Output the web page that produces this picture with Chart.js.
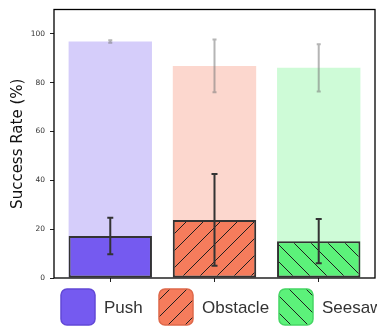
<!DOCTYPE html>
<html>
<head>
<meta charset="utf-8">
<script src="https://cdn.jsdelivr.net/npm/chart.js@4/dist/chart.umd.min.js"></script>
<style>
  html, body { margin: 0; padding: 0; background: #fff; }
  #wrap { width: 377px; height: 329px; }
</style>
</head>
<body>
<div id="wrap"><canvas id="c" width="377" height="329"></canvas></div>
<script>
// Task categories
const categories = ['Push', 'Obstacle', 'Seesaw'];
// Upper (pale) bars: success rate with the full method, and its spread
const upperMeans = [96.9, 86.9, 86.1];
const upperErrs  = [0.5, 10.8, 9.7];
// Lower (solid, hatched) bars: baseline success rate, and its spread
const lowerMeans = [17.2, 23.8, 15.1];
const lowerErrs  = [7.5, 18.8, 9.1];
// Value-axis tick labels
const yTicks = [0, 20, 40, 60, 80, 100];

const baseColors = ['rgb(117,90,240)', 'rgb(245,124,92)', 'rgb(92,242,122)'];
const paleColors = ['rgba(117,90,240,0.3)', 'rgba(245,124,92,0.3)', 'rgba(92,242,122,0.3)'];
const edgeColors = ['rgb(98,72,214)', 'rgb(222,104,74)', 'rgb(70,214,100)'];
const hatches = ['', '/', '\\'];

function makeHatch(color, kind) {
  if (!kind) return color;
  const p = 17;
  const t = document.createElement('canvas');
  t.width = p; t.height = p;
  const g = t.getContext('2d');
  g.fillStyle = color;
  g.fillRect(0, 0, p, p);
  g.strokeStyle = '#1e1e1e';
  g.lineWidth = 1;
  g.beginPath();
  if (kind === '/') {
    g.moveTo(-1, p + 1); g.lineTo(p + 1, -1);
    g.moveTo(-2, 2); g.lineTo(2, -2);
    g.moveTo(p - 2, p + 2); g.lineTo(p + 2, p - 2);
  } else {
    g.moveTo(-1, -1); g.lineTo(p + 1, p + 1);
    g.moveTo(p - 2, -2); g.lineTo(p + 2, 2);
    g.moveTo(-2, p - 2); g.lineTo(2, p + 2);
  }
  g.stroke();
  return g.createPattern(t, 'repeat');
}
const ctx = document.getElementById('c').getContext('2d');
const solidFills = baseColors.map((c, i) => makeHatch(c, hatches[i]));

// Error bars drawn from the data through the chart's scales
const errorBars = {
  id: 'errorBars',
  afterDatasetsDraw(chart) {
    const c = chart.ctx;
    const xs = chart.scales.x, ys = chart.scales.y;
    chart.data.datasets.forEach((ds) => {
      ds.data.forEach((pt, i) => {
        const e = ds.errs[i];
        const x = xs.getPixelForValue(pt.x);
        const yTop = ys.getPixelForValue(pt.y + e);
        const yBot = ys.getPixelForValue(pt.y - e);
        c.save();
        c.strokeStyle = ds.errColor;
        c.lineWidth = 2;
        c.beginPath();
        c.moveTo(x, yTop); c.lineTo(x, yBot);
        c.moveTo(x - ds.capHalf, yTop); c.lineTo(x + ds.capHalf, yTop);
        c.moveTo(x - ds.capHalf, yBot); c.lineTo(x + ds.capHalf, yBot);
        c.stroke();
        c.restore();
      });
    });
  }
};

// Axes frame around the plot area
const frame = {
  id: 'frame',
  afterDraw(chart) {
    const a = chart.chartArea, c = chart.ctx;
    c.save();
    c.strokeStyle = '#000';
    c.lineWidth = 1.3;
    c.strokeRect(a.left, a.top, a.right - a.left, a.bottom - a.top);
    c.restore();
  }
};

// Legend row below the plot
const legendRow = {
  id: 'legendRow',
  afterDraw(chart) {
    const c = chart.ctx, a = chart.chartArea;
    const starts = [7, 105, 225];
    const top = a.bottom + 11, w = 34, h = 36, r = 6;
    c.save();
    categories.forEach((name, i) => {
      const x = a.left + starts[i];
      c.beginPath();
      c.roundRect(x, top, w, h, r);
      c.fillStyle = solidFills[i];
      c.fill();
      c.strokeStyle = edgeColors[i];
      c.lineWidth = 1.5;
      c.stroke();
      c.fillStyle = '#333';
      c.font = '17px "Liberation Sans", Arial, sans-serif';
      c.textBaseline = 'middle';
      c.textAlign = 'left';
      c.fillText(name, x + w + 9, top + h / 2 + 1);
    });
    c.restore();
  }
};

const toPoints = (vals) => vals.map((v, i) => ({ x: i, y: v }));

new Chart(ctx, {
  type: 'bar',
  data: {
    datasets: [
      {
        label: 'upper',
        data: toPoints(upperMeans),
        errs: upperErrs,
        errColor: 'rgba(120,120,120,0.55)',
        capHalf: 2,
        backgroundColor: paleColors,
        borderWidth: 0,
        grouped: false,
        barPercentage: 0.8,
        categoryPercentage: 1,
        order: 2
      },
      {
        label: 'lower',
        data: toPoints(lowerMeans),
        errs: lowerErrs,
        errColor: '#333',
        capHalf: 3,
        backgroundColor: solidFills,
        borderColor: '#333',
        borderWidth: 2,
        borderSkipped: false,
        grouped: false,
        barPercentage: 0.8,
        categoryPercentage: 1,
        order: 1
      }
    ]
  },
  plugins: [errorBars, frame, legendRow],
  options: {
    responsive: false,
    animation: false,
    devicePixelRatio: 1,
    layout: { padding: { top: 1, right: 2, bottom: 45, left: 0 } },
    plugins: {
      legend: { display: false },
      tooltip: { enabled: false }
    },
    scales: {
      x: {
        type: 'linear',
        offset: false,
        min: -0.54,
        max: categories.length - 1 + 0.54,
        afterBuildTicks: (s) => { s.ticks = categories.map((_, i) => ({ value: i })); },
        afterFit: (s) => { s.height = 6; },
        ticks: { display: false },
        border: { display: false },
        grid: { display: true, offset: false, drawOnChartArea: false, drawTicks: true, tickLength: 4, color: '#222', lineWidth: 1 }
      },
      y: {
        min: 0,
        max: 110,
        afterBuildTicks: (s) => { s.ticks = yTicks.map((v) => ({ value: v })); },
        afterFit: (s) => { s.width = 54; },
        ticks: {
          padding: 5,
          color: '#333',
          font: { family: '"DejaVu Sans"', size: 7.5 }
        },
        border: { display: false },
        grid: { display: true, drawOnChartArea: false, drawTicks: true, tickLength: 4, color: '#222', lineWidth: 1 },
        title: {
          display: true,
          text: 'Success Rate (%)',
          color: '#111',
          font: { family: '"DejaVu Sans"', size: 15 },
          padding: { top: 9, bottom: 0 }
        }
      }
    }
  }
});
</script>
</body>
</html>
